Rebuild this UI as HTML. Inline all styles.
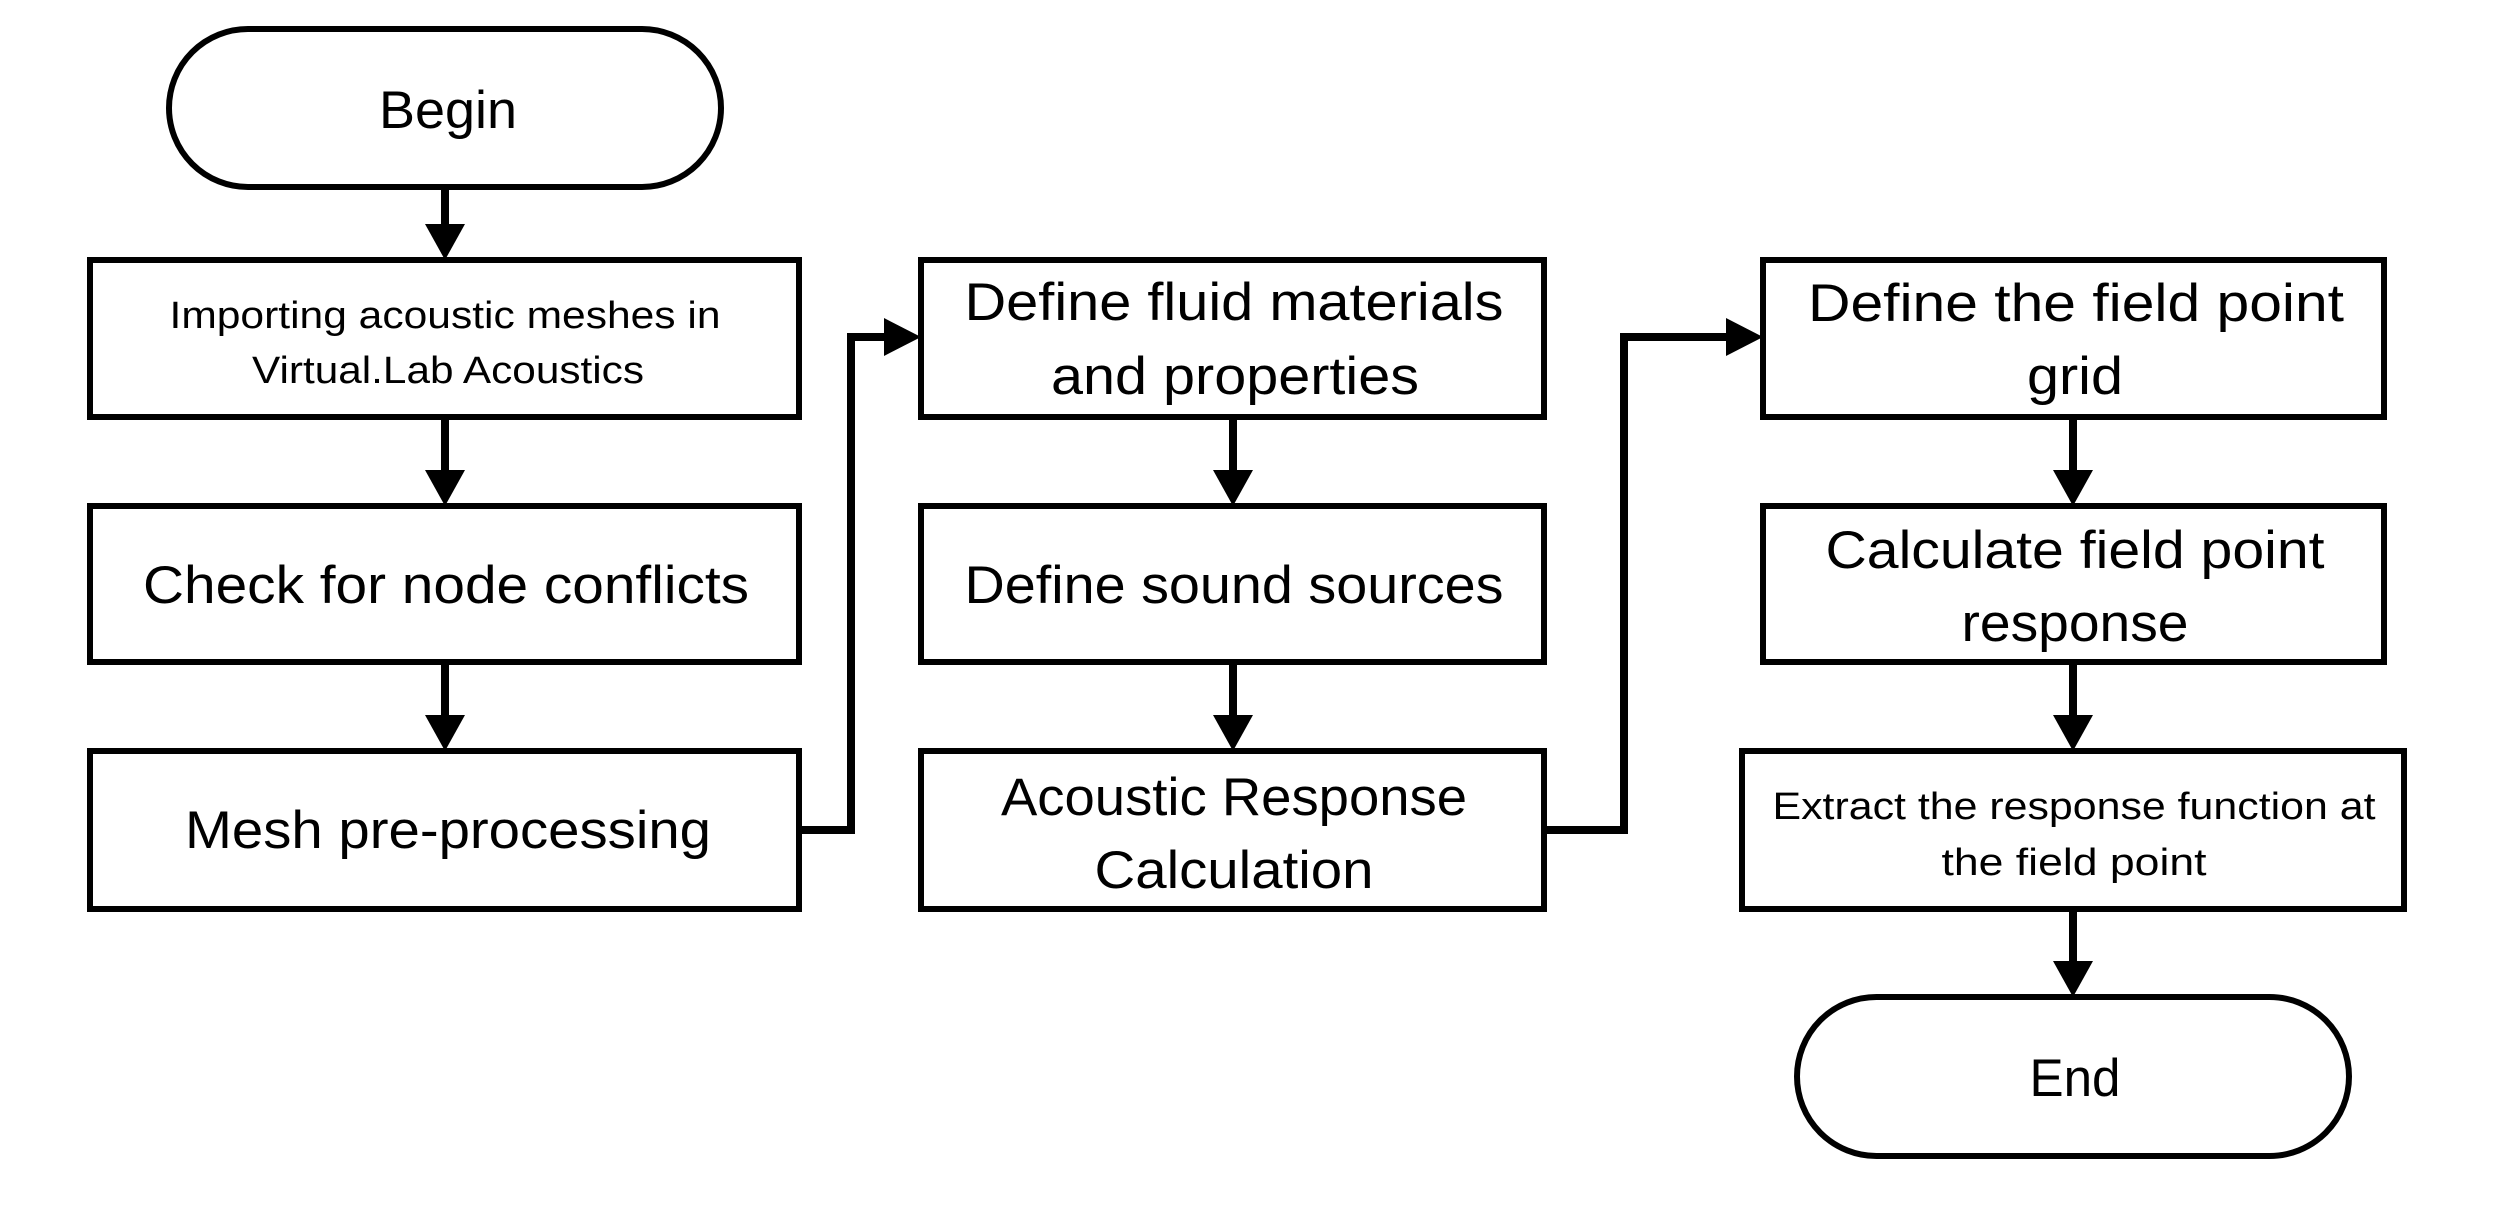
<!DOCTYPE html>
<html><head><meta charset="utf-8"><style>html,body{margin:0;padding:0;background:#fff}svg{display:block}</style></head>
<body>
<svg width="2506" height="1208" viewBox="0 0 2506 1208" xmlns="http://www.w3.org/2000/svg" font-family="'Liberation Sans', sans-serif" fill="#000">
<g fill="#fff" stroke="#000" stroke-width="6">
<rect x="169" y="29" width="552" height="158" rx="79"/>
<rect x="90" y="260" width="709" height="157"/>
<rect x="90" y="506" width="709" height="156"/>
<rect x="90" y="751" width="709" height="158"/>
<rect x="921" y="260" width="623" height="157"/>
<rect x="921" y="506" width="623" height="156"/>
<rect x="921" y="751" width="623" height="158"/>
<rect x="1763" y="260" width="621" height="157"/>
<rect x="1763" y="506" width="621" height="156"/>
<rect x="1742" y="751" width="662" height="158"/>
<rect x="1797" y="997" width="552" height="159" rx="79.5"/>
</g>
<g stroke="#000" stroke-width="8" fill="none">
<line x1="445" y1="187" x2="445" y2="226"/>
<line x1="445" y1="417" x2="445" y2="472"/>
<line x1="445" y1="662" x2="445" y2="717"/>
<line x1="1233" y1="417" x2="1233" y2="472"/>
<line x1="1233" y1="662" x2="1233" y2="717"/>
<line x1="2073" y1="417" x2="2073" y2="472"/>
<line x1="2073" y1="662" x2="2073" y2="717"/>
<line x1="2073" y1="909" x2="2073" y2="963"/>
<polyline points="799,830 851,830 851,337 890,337"/>
<polyline points="1544,830 1624,830 1624,337 1730,337"/>
</g>
<g>
<polygon points="425,224 465,224 445,260"/>
<polygon points="425,470 465,470 445,506"/>
<polygon points="425,715 465,715 445,751"/>
<polygon points="1213,470 1253,470 1233,506"/>
<polygon points="1213,715 1253,715 1233,751"/>
<polygon points="2053,470 2093,470 2073,506"/>
<polygon points="2053,715 2093,715 2073,751"/>
<polygon points="2053,961 2093,961 2073,997"/>
<polygon points="884,318 884,356 921,337"/>
<polygon points="1726,318 1726,356 1763,337"/>
</g>
<g font-size="53" text-anchor="middle">
<text x="448" y="128" textLength="138" lengthAdjust="spacingAndGlyphs">Begin</text>
<text x="446" y="603" textLength="606" lengthAdjust="spacingAndGlyphs">Check for node conflicts</text>
<text x="448" y="848" textLength="526" lengthAdjust="spacingAndGlyphs">Mesh pre-processing</text>
<text x="1234" y="320" textLength="539" lengthAdjust="spacingAndGlyphs">Define fluid materials</text>
<text x="1235" y="394" textLength="368" lengthAdjust="spacingAndGlyphs">and properties</text>
<text x="1234" y="603" textLength="539" lengthAdjust="spacingAndGlyphs">Define sound sources</text>
<text x="1234" y="815" textLength="466" lengthAdjust="spacingAndGlyphs">Acoustic Response</text>
<text x="1234" y="888" textLength="279" lengthAdjust="spacingAndGlyphs">Calculation</text>
<text x="2076" y="321" textLength="536" lengthAdjust="spacingAndGlyphs">Define the field point</text>
<text x="2075" y="394" textLength="96" lengthAdjust="spacingAndGlyphs">grid</text>
<text x="2075" y="568" textLength="499" lengthAdjust="spacingAndGlyphs">Calculate field point</text>
<text x="2075" y="641" textLength="227" lengthAdjust="spacingAndGlyphs">response</text>
<text x="2075" y="1096" textLength="91" lengthAdjust="spacingAndGlyphs">End</text>
</g>
<g font-size="38" text-anchor="middle">
<text x="445" y="328" textLength="551" lengthAdjust="spacingAndGlyphs">Importing acoustic meshes in</text>
<text x="448" y="383" textLength="392" lengthAdjust="spacingAndGlyphs">Virtual.Lab Acoustics</text>
<text x="2074" y="819" textLength="603" lengthAdjust="spacingAndGlyphs">Extract the response function at</text>
<text x="2074" y="875" textLength="265" lengthAdjust="spacingAndGlyphs">the field point</text>
</g>
</svg>
</body></html>
